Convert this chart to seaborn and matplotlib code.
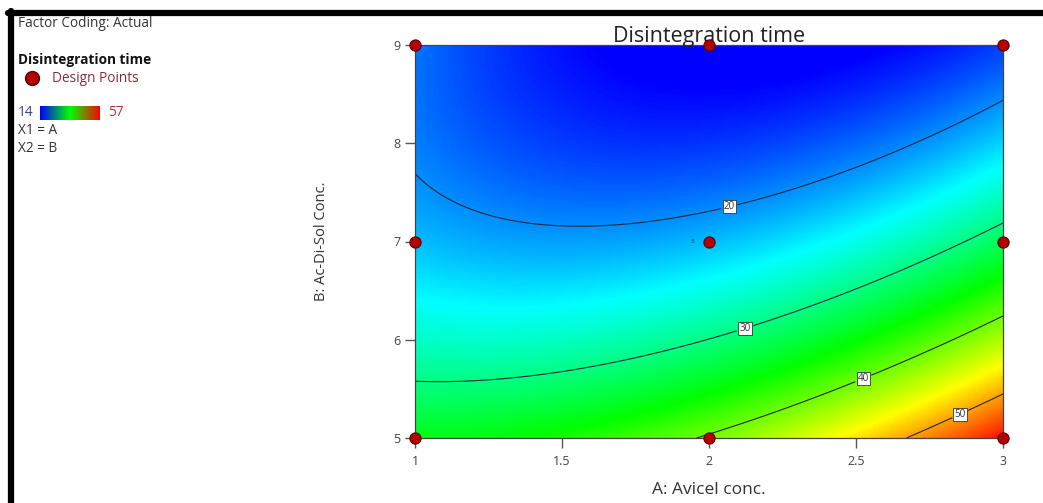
import numpy as np
import pandas as pd
import matplotlib
matplotlib.use("Agg")
import matplotlib.pyplot as plt
import seaborn as sns
from matplotlib.colors import LinearSegmentedColormap
from matplotlib.lines import Line2D

# ---------------- data ----------------
# Design points (3x3 factorial, centre point replicated)
avicel = [1, 2, 3, 1, 2, 3, 1, 2, 3]
acdisol = [5, 5, 5, 7, 7, 7, 9, 9, 9]
disint_time = [34.6, 40.4, 56.3, 22.1, 22.0, 31.9, 19.0, 13.0, 16.6]
centre_replicates = 5
contour_levels = [20, 30, 40, 50]
label_pos_A = [2.07, 2.12, 2.52, 2.85]
label_pos_B = [7.34, 6.14, 5.64, 5.27]
colour_range = [14, 57]
x_ticks = [1, 1.5, 2, 2.5, 3]
x_tick_labels = ["1", "1.5", "2", "2.5", "3"]
y_ticks = [5, 6, 7, 8, 9]
y_tick_labels = ["5", "6", "7", "8", "9"]

sns.set_style("white")
plt.rcParams['font.family'] = ['Open Sans', 'DejaVu Sans']

W, H = 1043, 503
fig = plt.figure(figsize=(W / 100, H / 100), dpi=100)

# ---------------- quadratic model fit ----------------
df = pd.DataFrame({"A": avicel, "B": acdisol, "Y": disint_time})
centre = df[(df.A == 2) & (df.B == 7)]
fit_df = pd.concat([df] + [centre] * (centre_replicates - 1), ignore_index=True)

def design(a, b):
    a = np.asarray(a, float); b = np.asarray(b, float)
    return np.column_stack([np.ones_like(a), a, b, a * b, a ** 2, b ** 2])

coef, *_ = np.linalg.lstsq(design(fit_df.A, fit_df.B), fit_df.Y.values, rcond=None)

ga = np.linspace(1, 3, 300)
gb = np.linspace(5, 9, 300)
GA, GB = np.meshgrid(ga, gb)
Z = (design(GA.ravel(), GB.ravel()) @ coef).reshape(GA.shape)

cmap = LinearSegmentedColormap.from_list(
    "de", ["#0000ff", "#00ffff", "#00ff00", "#ffff00", "#ff0000"])

# ---------------- main axes ----------------
ax = fig.add_axes([415 / W, 1 - 438 / H, 588 / W, 393 / H])
ax.imshow(Z, extent=[1, 3, 5, 9], origin="lower", aspect="auto", cmap=cmap,
          vmin=colour_range[0], vmax=colour_range[1], interpolation="bilinear")
cs = ax.contour(GA, GB, Z, levels=contour_levels, colors="#262640", linewidths=0.8)
labels = ax.clabel(cs, fmt="%d", fontsize=7, inline=True, inline_spacing=3,
                   manual=list(zip(label_pos_A, label_pos_B)))
for t in labels:
    t.set_rotation(0)
    t.set_color("#333333")
    t.set_bbox(dict(facecolor="white", edgecolor="#333333", pad=0.8, linewidth=0.6))
    t.set_zorder(7)

sns.scatterplot(x=avicel, y=acdisol, ax=ax, s=65, color="#b40000",
                edgecolor="#5a0000", linewidth=0.8, clip_on=False, zorder=6,
                legend=False)
ax.text(2 - 0.05, 7, str(centre_replicates), fontsize=4.5, color="#333333",
        ha="right", va="center")

ax.set_xlim(1, 3)
ax.set_ylim(5, 9)
ax.set_xticks(x_ticks, x_tick_labels)
ax.set_yticks(y_ticks, y_tick_labels)
ax.tick_params(axis="both", direction="out", length=7, width=1, color="#555555",
               labelcolor="#444444", labelsize=9, bottom=True, left=True)
ax.tick_params(axis="x", pad=5)
for s in ax.spines.values():
    s.set_color("#444444")
    s.set_linewidth(0.9)

ax.set_title("Disintegration time", fontsize=15.5, color="#222222", pad=2)
ax.set_xlabel("A: Avicel conc.", fontsize=12.5, color="#333333", labelpad=10)
ax.set_ylabel("B: Ac-Di-Sol Conc.", fontsize=10.5, color="#333333", labelpad=46,
              family=["Liberation Sans Narrow", "Open Sans"])

# ---------------- left info panel ----------------
def fx(px):
    return px / W

def fy(py):
    return 1 - py / H

fs = 9.8
fig.text(fx(18), fy(24), "Factor Coding: Actual", fontsize=fs, color="#333333", va="center")
fig.text(fx(18), fy(60), "Disintegration time", fontsize=fs, fontweight="bold",
         color="#111111", va="center")
fig.add_artist(Line2D([fx(32)], [fy(78)], marker="o", markersize=10,
                      markerfacecolor="#b40000", markeredgecolor="#5a0000",
                      linestyle="none"))
fig.text(fx(52), fy(78), "Design Points", fontsize=fs, color="#8a2a3a", va="center")

cax = fig.add_axes([fx(40), fy(120), fx(60), 14 / H])
cax.imshow(np.linspace(0, 1, 256)[None, :], aspect="auto", cmap=LinearSegmentedColormap.from_list(
    "bar", ["#0000ff", "#00ff00", "#ff0000"]))
cax.set_axis_off()
fig.text(fx(18), fy(113), str(colour_range[0]), fontsize=fs, color="#3a3a9a", va="center")
fig.text(fx(108), fy(113), str(colour_range[1]), fontsize=fs, color="#b03040", va="center")
fig.text(fx(18), fy(131), "X1 = A", fontsize=fs, color="#333333", va="center")
fig.text(fx(18), fy(148), "X2 = B", fontsize=fs, color="#333333", va="center")

# ---------------- black frame ----------------
fig.add_artist(Line2D([fx(8), 1], [fy(13), fy(13)], color="black", linewidth=4.5))
fig.add_artist(Line2D([fx(11), fx(11)], [fy(11), 0], color="black", linewidth=4.5))

fig.savefig("out.png", dpi=100)
